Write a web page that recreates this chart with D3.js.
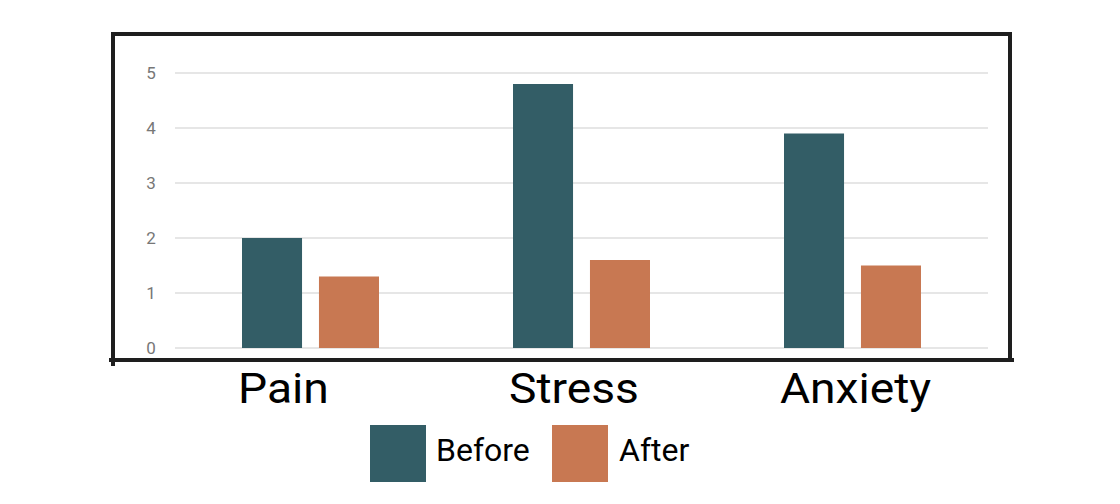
<!DOCTYPE html>
<html>
<head>
<meta charset="utf-8">
<script src="https://cdn.jsdelivr.net/npm/d3@7"></script>
<style>
  body { margin: 0; background: #fff; }
  svg { display: block; font-family: Roboto, "Noto Sans", sans-serif; }
</style>
</head>
<body>
<div id="chart"></div>
<script>
// chart data
const categories = ["Pain", "Stress", "Anxiety"];
const seriesNames = ["Before", "After"];
const beforeValues = [2.0, 4.8, 3.9];
const afterValues = [1.3, 1.6, 1.5];
const yTicks = [0, 1, 2, 3, 4, 5];

const colors = {Before: "#335d66", After: "#c87852"};

const width = 1120, height = 504;
const plot = {left: 175, right: 988, top: 73, bottom: 348};

const svg = d3.select("#chart").append("svg")
    .attr("width", width)
    .attr("height", height);

// scales
const x = d3.scaleBand()
    .domain(categories)
    .range([plot.left, plot.right]);

const xInner = d3.scaleBand()
    .domain(seriesNames)
    .range([0, 137])
    .paddingInner(0.22);

const y = d3.scaleLinear()
    .domain([0, 5])
    .range([plot.bottom, plot.top]);

// gridlines
svg.append("g")
    .selectAll("line")
    .data(yTicks)
    .enter().append("line")
    .attr("x1", plot.left)
    .attr("x2", plot.right)
    .attr("y1", d => y(d))
    .attr("y2", d => y(d))
    .attr("stroke", "#e6e6e6")
    .attr("stroke-width", 2);

// y tick labels
svg.append("g")
    .selectAll("text")
    .data(yTicks)
    .enter().append("text")
    .attr("x", 151)
    .attr("y", d => y(d))
    .attr("dy", "0.36em")
    .attr("text-anchor", "middle")
    .attr("fill", "#777")
    .style("font-size", "17px")
    .text(d => d);

// bars
const rows = categories.map((c, i) => ({
  category: c,
  values: [
    {key: "Before", value: beforeValues[i]},
    {key: "After", value: afterValues[i]}
  ]
}));

const groupOffset = (x.bandwidth() - xInner.range()[1]) / 2;

const groups = svg.append("g")
    .selectAll("g")
    .data(rows)
    .enter().append("g")
    .attr("transform", d => "translate(" + (x(d.category) + groupOffset) + ",0)");

groups.selectAll("rect")
    .data(d => d.values)
    .enter().append("rect")
    .attr("x", d => xInner(d.key))
    .attr("y", d => y(d.value))
    .attr("width", xInner.bandwidth())
    .attr("height", d => y(0) - y(d.value))
    .attr("fill", d => colors[d.key]);

// frame around the plot
const frame = svg.append("g")
    .attr("stroke", "#1e1e1e")
    .attr("stroke-width", 4)
    .attr("stroke-linecap", "square");
frame.append("line").attr("x1", 113).attr("x2", 1010).attr("y1", 34).attr("y2", 34);
frame.append("line").attr("x1", 113).attr("x2", 113).attr("y1", 34).attr("y2", 364);
frame.append("line").attr("x1", 1010).attr("x2", 1010).attr("y1", 34).attr("y2", 360);
frame.append("line").attr("x1", 111).attr("x2", 1012).attr("y1", 360).attr("y2", 360);

// category labels (the source text is slightly stretched horizontally)
svg.append("g")
    .selectAll("text")
    .data(categories)
    .enter().append("text")
    .attr("transform", d => "translate(" + (x(d) + groupOffset - 4) + ",403) scale(1.1,1)")
    .attr("fill", "#000")
    .style("font-size", "42px")
    .text(d => d);

// legend
const legend = svg.append("g")
    .selectAll("g")
    .data(seriesNames)
    .enter().append("g")
    .attr("transform", (d, i) => "translate(" + (i === 0 ? 370 : 552) + ",425)");

legend.append("rect")
    .attr("width", 56)
    .attr("height", 57)
    .attr("fill", d => colors[d]);

legend.append("text")
    .attr("x", (d, i) => i === 0 ? 66 : 67)
    .attr("y", 36)
    .attr("fill", "#000")
    .style("font-size", "32px")
    .text(d => d);
</script>
</body>
</html>
